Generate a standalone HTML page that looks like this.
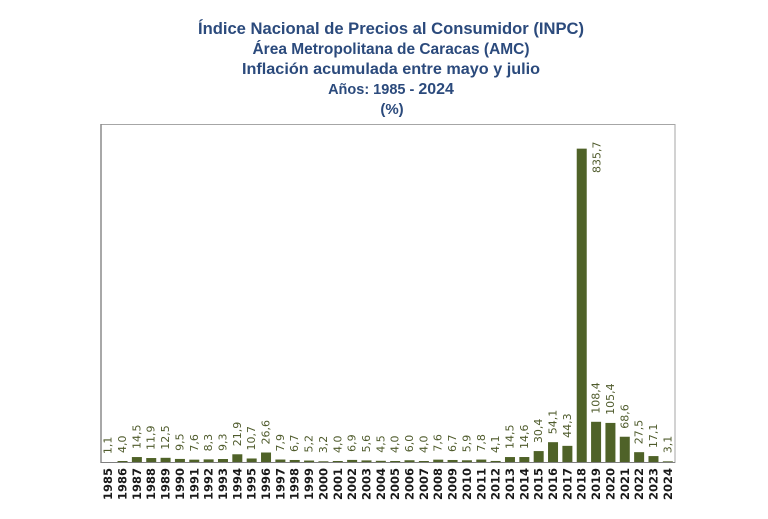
<!DOCTYPE html>
<html>
<head>
<meta charset="utf-8">
<style>
html,body{margin:0;padding:0;background:#fff;}
svg{display:block;}
.t{font-family:"Liberation Sans",Arial,sans-serif;font-weight:bold;fill:#2b4a7c;text-anchor:middle;}
.v text{font-family:"DejaVu Sans",Verdana,sans-serif;font-size:11px;fill:#4f5b2c;dominant-baseline:central;}
.y text{font-family:"DejaVu Sans",Verdana,sans-serif;font-size:11.5px;font-weight:bold;fill:#1a1a1a;dominant-baseline:central;text-anchor:end;}
.b rect{fill:#4f6228;}
</style>
</head>
<body>
<svg width="768" height="519" viewBox="0 0 768 519" xmlns="http://www.w3.org/2000/svg">
<rect x="0" y="0" width="768" height="519" fill="#fff"/>
<text class="t" x="391" y="34" font-size="16.5" textLength="386" lengthAdjust="spacingAndGlyphs">Índice Nacional de Precios al Consumidor (INPC)</text>
<text class="t" x="391" y="54" font-size="15.5" textLength="277" lengthAdjust="spacingAndGlyphs">Área Metropolitana de Caracas (AMC)</text>
<text class="t" x="391" y="74" font-size="16" textLength="298" lengthAdjust="spacingAndGlyphs">Inflación acumulada entre mayo y julio</text>
<text class="t" x="391" y="94" font-size="14.5">Años: 1985 - <tspan font-size="16">2024</tspan></text>
<text class="t" x="392" y="114" font-size="15">(%)</text>

<rect x="101" y="124.5" width="574" height="338" fill="none" stroke="#a6a6a6" stroke-width="1"/>
<line x1="101" y1="124" x2="101" y2="463" stroke="#8c8c8c" stroke-width="1.5"/>

<g class="b">
<rect x="103.18" y="462.09" width="10" height="0.41"/>
<rect x="117.53" y="461.0" width="10" height="1.5"/>
<rect x="131.88" y="457.05" width="10" height="5.45"/>
<rect x="146.23" y="458.03" width="10" height="4.47"/>
<rect x="160.58" y="457.81" width="10" height="4.69"/>
<rect x="174.93" y="458.93" width="10" height="3.57"/>
<rect x="189.28" y="459.65" width="10" height="2.85"/>
<rect x="203.63" y="459.38" width="10" height="3.12"/>
<rect x="217.98" y="459.01" width="10" height="3.49"/>
<rect x="232.33" y="454.28" width="10" height="8.22"/>
<rect x="246.68" y="458.48" width="10" height="4.02"/>
<rect x="261.03" y="452.51" width="10" height="9.99"/>
<rect x="275.38" y="459.53" width="10" height="2.97"/>
<rect x="289.73" y="459.98" width="10" height="2.52"/>
<rect x="304.08" y="460.55" width="10" height="1.95"/>
<rect x="318.43" y="461.3" width="10" height="1.2"/>
<rect x="332.78" y="461.0" width="10" height="1.5"/>
<rect x="347.13" y="459.91" width="10" height="2.59"/>
<rect x="361.48" y="460.4" width="10" height="2.1"/>
<rect x="375.83" y="460.81" width="10" height="1.69"/>
<rect x="390.18" y="461.0" width="10" height="1.5"/>
<rect x="404.53" y="460.25" width="10" height="2.25"/>
<rect x="418.88" y="461.0" width="10" height="1.5"/>
<rect x="433.23" y="459.65" width="10" height="2.85"/>
<rect x="447.58" y="459.98" width="10" height="2.52"/>
<rect x="461.93" y="460.28" width="10" height="2.22"/>
<rect x="476.28" y="459.57" width="10" height="2.93"/>
<rect x="490.63" y="460.96" width="10" height="1.54"/>
<rect x="504.98" y="457.05" width="10" height="5.45"/>
<rect x="519.33" y="457.02" width="10" height="5.48"/>
<rect x="533.68" y="451.08" width="10" height="11.42"/>
<rect x="548.03" y="442.18" width="10" height="20.32"/>
<rect x="562.38" y="445.86" width="10" height="16.64"/>
<rect x="576.73" y="148.64" width="10" height="313.86"/>
<rect x="591.08" y="421.79" width="10" height="40.71"/>
<rect x="605.43" y="422.92" width="10" height="39.58"/>
<rect x="619.78" y="436.74" width="10" height="25.76"/>
<rect x="634.13" y="452.17" width="10" height="10.33"/>
<rect x="648.48" y="456.08" width="10" height="6.42"/>
<rect x="662.83" y="461.34" width="10" height="1.16"/>
</g>

<line x1="101" y1="462.5" x2="675" y2="462.5" stroke="#7f7f7f" stroke-width="1"/>

<g class="v" transform="translate(0,-1)">
<text transform="translate(108.18,455.1) rotate(-90)">1,1</text>
<text transform="translate(122.53,454.0) rotate(-90)">4,0</text>
<text transform="translate(136.88,450.05) rotate(-90)">14,5</text>
<text transform="translate(151.23,451.0) rotate(-90)">11,9</text>
<text transform="translate(165.58,450.8) rotate(-90)">12,5</text>
<text transform="translate(179.93,451.9) rotate(-90)">9,5</text>
<text transform="translate(194.28,452.6) rotate(-90)">7,6</text>
<text transform="translate(208.63,452.4) rotate(-90)">8,3</text>
<text transform="translate(222.98,452.0) rotate(-90)">9,3</text>
<text transform="translate(237.33,447.3) rotate(-90)">21,9</text>
<text transform="translate(251.68,451.5) rotate(-90)">10,7</text>
<text transform="translate(266.03,445.5) rotate(-90)">26,6</text>
<text transform="translate(280.38,452.5) rotate(-90)">7,9</text>
<text transform="translate(294.73,453.0) rotate(-90)">6,7</text>
<text transform="translate(309.08,453.5) rotate(-90)">5,2</text>
<text transform="translate(323.43,454.3) rotate(-90)">3,2</text>
<text transform="translate(337.78,454.0) rotate(-90)">4,0</text>
<text transform="translate(352.13,452.9) rotate(-90)">6,9</text>
<text transform="translate(366.48,453.4) rotate(-90)">5,6</text>
<text transform="translate(380.83,453.8) rotate(-90)">4,5</text>
<text transform="translate(395.18,454.0) rotate(-90)">4,0</text>
<text transform="translate(409.53,453.25) rotate(-90)">6,0</text>
<text transform="translate(423.88,454.0) rotate(-90)">4,0</text>
<text transform="translate(438.23,452.65) rotate(-90)">7,6</text>
<text transform="translate(452.58,453.0) rotate(-90)">6,7</text>
<text transform="translate(466.93,453.3) rotate(-90)">5,9</text>
<text transform="translate(481.28,452.6) rotate(-90)">7,8</text>
<text transform="translate(495.63,454.0) rotate(-90)">4,1</text>
<text transform="translate(509.98,450.05) rotate(-90)">14,5</text>
<text transform="translate(524.33,450.0) rotate(-90)">14,6</text>
<text transform="translate(538.68,444.1) rotate(-90)">30,4</text>
<text transform="translate(553.03,435.2) rotate(-90)">54,1</text>
<text transform="translate(567.38,438.9) rotate(-90)">44,3</text>
<text transform="translate(597,174) rotate(-90)">835,7</text>
<text transform="translate(596.08,414.8) rotate(-90)">108,4</text>
<text transform="translate(610.43,415.9) rotate(-90)">105,4</text>
<text transform="translate(624.78,429.7) rotate(-90)">68,6</text>
<text transform="translate(639.13,445.2) rotate(-90)">27,5</text>
<text transform="translate(653.48,449.1) rotate(-90)">17,1</text>
<text transform="translate(667.83,454.3) rotate(-90)">3,1</text>
</g>

<g class="y">
<text transform="translate(108.18,468) rotate(-90)">1985</text>
<text transform="translate(122.53,468) rotate(-90)">1986</text>
<text transform="translate(136.88,468) rotate(-90)">1987</text>
<text transform="translate(151.23,468) rotate(-90)">1988</text>
<text transform="translate(165.58,468) rotate(-90)">1989</text>
<text transform="translate(179.93,468) rotate(-90)">1990</text>
<text transform="translate(194.28,468) rotate(-90)">1991</text>
<text transform="translate(208.63,468) rotate(-90)">1992</text>
<text transform="translate(222.98,468) rotate(-90)">1993</text>
<text transform="translate(237.33,468) rotate(-90)">1994</text>
<text transform="translate(251.68,468) rotate(-90)">1995</text>
<text transform="translate(266.03,468) rotate(-90)">1996</text>
<text transform="translate(280.38,468) rotate(-90)">1997</text>
<text transform="translate(294.73,468) rotate(-90)">1998</text>
<text transform="translate(309.08,468) rotate(-90)">1999</text>
<text transform="translate(323.43,468) rotate(-90)">2000</text>
<text transform="translate(337.78,468) rotate(-90)">2001</text>
<text transform="translate(352.13,468) rotate(-90)">2002</text>
<text transform="translate(366.48,468) rotate(-90)">2003</text>
<text transform="translate(380.83,468) rotate(-90)">2004</text>
<text transform="translate(395.18,468) rotate(-90)">2005</text>
<text transform="translate(409.53,468) rotate(-90)">2006</text>
<text transform="translate(423.88,468) rotate(-90)">2007</text>
<text transform="translate(438.23,468) rotate(-90)">2008</text>
<text transform="translate(452.58,468) rotate(-90)">2009</text>
<text transform="translate(466.93,468) rotate(-90)">2010</text>
<text transform="translate(481.28,468) rotate(-90)">2011</text>
<text transform="translate(495.63,468) rotate(-90)">2012</text>
<text transform="translate(509.98,468) rotate(-90)">2013</text>
<text transform="translate(524.33,468) rotate(-90)">2014</text>
<text transform="translate(538.68,468) rotate(-90)">2015</text>
<text transform="translate(553.03,468) rotate(-90)">2016</text>
<text transform="translate(567.38,468) rotate(-90)">2017</text>
<text transform="translate(581.73,468) rotate(-90)">2018</text>
<text transform="translate(596.08,468) rotate(-90)">2019</text>
<text transform="translate(610.43,468) rotate(-90)">2020</text>
<text transform="translate(624.78,468) rotate(-90)">2021</text>
<text transform="translate(639.13,468) rotate(-90)">2022</text>
<text transform="translate(653.48,468) rotate(-90)">2023</text>
<text transform="translate(667.83,468) rotate(-90)">2024</text>
</g>
</svg>
</body>
</html>
